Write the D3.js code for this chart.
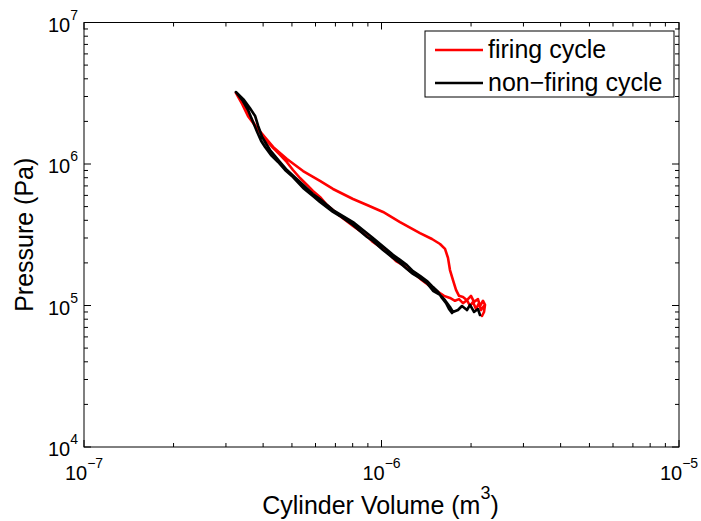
<!DOCTYPE html>
<html>
<head>
<meta charset="utf-8">
<script src="https://cdn.jsdelivr.net/npm/d3@7"></script>
<style>
  body { margin: 0; background: #fff; }
  text { font-family: Arial, "Liberation Sans", Helvetica, sans-serif; fill: #000; }
</style>
</head>
<body>
<svg width="701" height="521"></svg>
<script>
// P-V diagram, log-log axes

// Firing cycle: intake wiggles -> compression -> expansion -> blowdown
const firingV = [2.21e-6, 2.16e-6, 2.127e-6, 2.078e-6, 2.03e-6, 1.984e-6, 1.938e-6, 1.879e-6, 1.822e-6, 1.766e-6, 1.699e-6,
  1.623e-6, 1.548e-6, 1.456e-6, 1.368e-6, 1.306e-6, 1.247e-6, 1.181e-6, 1.119e-6, 1.068e-6, 1.012e-6, 9.36e-7, 8.94e-7,
  8.02e-7, 7.25e-7, 6.56e-7, 6.21e-7, 5.88e-7, 5.62e-7, 5.32e-7, 5.04e-7, 4.81e-7, 4.56e-7, 4.32e-7, 4.12e-7, 3.97e-7,
  3.85e-7, 3.70e-7, 3.56e-7, 3.45e-7, 3.35e-7, 3.24e-7,
  3.40e-7, 3.56e-7, 3.79e-7, 4.00e-7, 4.32e-7, 4.81e-7, 5.45e-7, 6.21e-7, 6.87e-7, 8.02e-7, 8.94e-7, 1.012e-6, 1.154e-6,
  1.347e-6, 1.478e-6, 1.573e-6, 1.635e-6, 1.673e-6, 1.699e-6, 1.739e-6, 1.780e-6, 1.822e-6, 1.879e-6, 1.938e-6, 1.999e-6,
  2.046e-6, 2.110e-6, 2.143e-6, 2.194e-6, 2.228e-6, 2.211e-6, 2.177e-6];
const firingP = [9.92e4, 9.29e4, 1.04e5, 9.45e4, 1.06e5, 9.92e4, 1.09e5, 1.04e5, 1.11e5, 1.08e5, 1.13e5,
  1.17e5, 1.25e5, 1.37e5, 1.51e5, 1.64e5, 1.75e5, 1.93e5, 2.06e5, 2.28e5, 2.51e5, 2.81e5, 3.10e5,
  3.65e5, 4.29e5, 5.13e5, 5.85e5, 6.45e5, 7.11e5, 7.96e5, 9.07e5, 1.03e6, 1.16e6, 1.30e6, 1.45e6, 1.60e6,
  1.74e6, 1.98e6, 2.33e6, 2.57e6, 2.88e6, 3.18e6,
  2.66e6, 2.18e6, 1.83e6, 1.60e6, 1.32e6, 1.085e6, 8.92e5, 7.59e5, 6.66e5, 5.66e5, 5.13e5, 4.58e5, 3.89e5,
  3.25e5, 2.95e5, 2.72e5, 2.51e5, 2.17e5, 1.78e5, 1.51e5, 1.29e5, 1.17e5, 1.15e5, 1.09e5, 1.17e5,
  1.06e5, 1.11e5, 9.92e4, 1.08e5, 1.01e5, 9.00e4, 8.43e4];

// Non-firing (motored) cycle
const nonFiringV = [2.143e-6, 2.110e-6, 2.046e-6, 1.984e-6, 1.938e-6, 1.864e-6, 1.807e-6, 1.739e-6, 1.699e-6, 1.635e-6,
  1.573e-6, 1.490e-6, 1.422e-6, 1.347e-6, 1.276e-6, 1.218e-6, 1.154e-6, 1.093e-6, 1.012e-6, 9.36e-7, 8.94e-7, 8.02e-7,
  7.25e-7, 6.87e-7, 6.21e-7, 5.88e-7, 5.45e-7, 5.04e-7, 4.74e-7, 4.49e-7, 4.25e-7, 4.06e-7, 3.94e-7, 3.82e-7, 3.70e-7,
  3.56e-7, 3.42e-7, 3.24e-7,
  3.45e-7, 3.61e-7, 3.76e-7, 3.85e-7, 3.97e-7, 4.22e-7, 4.56e-7, 4.81e-7, 5.32e-7, 5.88e-7, 6.21e-7, 6.87e-7, 8.02e-7,
  9.36e-7, 1.027e-6, 1.093e-6, 1.154e-6, 1.218e-6, 1.276e-6, 1.347e-6, 1.422e-6, 1.490e-6, 1.548e-6, 1.597e-6, 1.648e-6,
  1.686e-6, 1.726e-6];
const nonFiringP = [8.57e4, 9.45e4, 9.00e4, 1.01e5, 9.29e4, 9.92e4, 9.29e4, 9.00e4, 9.76e4, 1.09e5,
  1.19e5, 1.27e5, 1.44e5, 1.56e5, 1.67e5, 1.81e5, 2.00e5, 2.17e5, 2.47e5, 2.86e5, 3.05e5, 3.71e5,
  4.29e5, 4.58e5, 5.39e5, 5.94e5, 6.77e5, 8.09e5, 9.07e5, 1.033e6, 1.158e6, 1.319e6, 1.454e6, 1.683e6, 1.981e6,
  2.408e6, 2.788e6, 3.228e6,
  2.834e6, 2.488e6, 2.184e6, 1.856e6, 1.551e6, 1.256e6, 1.033e6, 9.07e5, 7.46e5, 6.14e5, 5.66e5, 4.73e5, 3.89e5,
  3.00e5, 2.55e5, 2.28e5, 2.10e5, 1.93e5, 1.75e5, 1.62e5, 1.49e5, 1.35e5, 1.25e5, 1.13e5, 1.04e5,
  9.45e4, 8.85e4];

const seriesNames = ["firing cycle", "non\u2212firing cycle"];
const seriesColors = ["#ff0000", "#000000"];

const xDomain = [1e-7, 1e-5];
const yDomain = [1e4, 1e7];
const xMajor = [1e-7, 1e-6, 1e-5];
const yMajor = [1e4, 1e5, 1e6, 1e7];

// Layout
const svg = d3.select("svg");
const plotL = 84, plotR = 679, plotT = 22.5, plotB = 447;

const x = d3.scaleLog().domain(xDomain).range([plotL, plotR]);
const y = d3.scaleLog().domain(yDomain).range([plotB, plotT]);

// Curves
const line = d3.line().x(d => x(d[0])).y(d => y(d[1]));
const series = [
  d3.zip(firingV, firingP),
  d3.zip(nonFiringV, nonFiringP)
];

const g = svg.append("g");
series.forEach(function(pts, i) {
    g.append("path")
        .attr("d", line(pts))
        .attr("fill", "none")
        .attr("stroke", seriesColors[i])
        .attr("stroke-width", 2.6)
        .attr("stroke-linejoin", "round")
        .attr("stroke-linecap", "round");
});

// Box and inward ticks on all four sides
const axes = svg.append("g").attr("stroke", "#000").attr("stroke-width", 1);
axes.append("rect")
    .attr("x", plotL).attr("y", plotT)
    .attr("width", plotR - plotL).attr("height", plotB - plotT)
    .attr("fill", "none");

const isMajor = v => Math.abs(Math.log10(v) - Math.round(Math.log10(v))) < 1e-9;

x.ticks().forEach(function(v) {
    let len = isMajor(v) ? 7 : 4;
    axes.append("line").attr("x1", x(v)).attr("x2", x(v)).attr("y1", plotB).attr("y2", plotB - len);
    axes.append("line").attr("x1", x(v)).attr("x2", x(v)).attr("y1", plotT).attr("y2", plotT + len);
});
y.ticks().forEach(function(v) {
    let len = isMajor(v) ? 7 : 4;
    axes.append("line").attr("y1", y(v)).attr("y2", y(v)).attr("x1", plotL).attr("x2", plotL + len);
    axes.append("line").attr("y1", y(v)).attr("y2", y(v)).attr("x1", plotR).attr("x2", plotR - len);
});

// Tick labels: 10 with superscript exponent
function powLabel(sel, v) {
    let e = Math.round(Math.log10(v));
    sel.append("tspan").text("10");
    sel.append("tspan").attr("dy", -12).attr("font-size", 14).text(String(e).replace("-", "\u2212"));
}

xMajor.forEach(function(v) {
    let t = svg.append("text")
        .attr("x", x(v)).attr("y", plotB + 33)
        .attr("font-size", 20)
        .attr("text-anchor", "middle");
    powLabel(t, v);
});
yMajor.forEach(function(v) {
    let t = svg.append("text")
        .attr("x", plotL - 6).attr("y", y(v) + 9)
        .attr("font-size", 20)
        .attr("text-anchor", "end");
    powLabel(t, v);
});

// Axis titles
let xt = svg.append("text")
    .attr("x", (plotL + plotR) / 2 - 1).attr("y", 514)
    .attr("font-size", 25)
    .attr("text-anchor", "middle");
xt.append("tspan").text("Cylinder Volume (m");
xt.append("tspan").attr("dy", -15).attr("font-size", 18).text("3");
xt.append("tspan").attr("dy", 15).text(")");

svg.append("text")
    .attr("transform", "translate(33," + ((plotT + plotB) / 2) + ") rotate(-90)")
    .attr("font-size", 25)
    .attr("text-anchor", "middle")
    .text("Pressure (Pa)");

// Legend
const legend = svg.append("g");
legend.append("rect")
    .attr("x", 425).attr("y", 31).attr("width", 249).attr("height", 66)
    .attr("fill", "#fff").attr("stroke", "#000").attr("stroke-width", 1);
seriesNames.forEach(function(name, i) {
    let ly = 50 + i * 33;
    legend.append("line")
        .attr("x1", 435).attr("x2", 483).attr("y1", ly).attr("y2", ly)
        .attr("stroke", seriesColors[i]).attr("stroke-width", 2.6);
    legend.append("text")
        .attr("x", 488).attr("y", ly + 8)
        .attr("font-size", 25)
        .text(name);
});
</script>
</body>
</html>
